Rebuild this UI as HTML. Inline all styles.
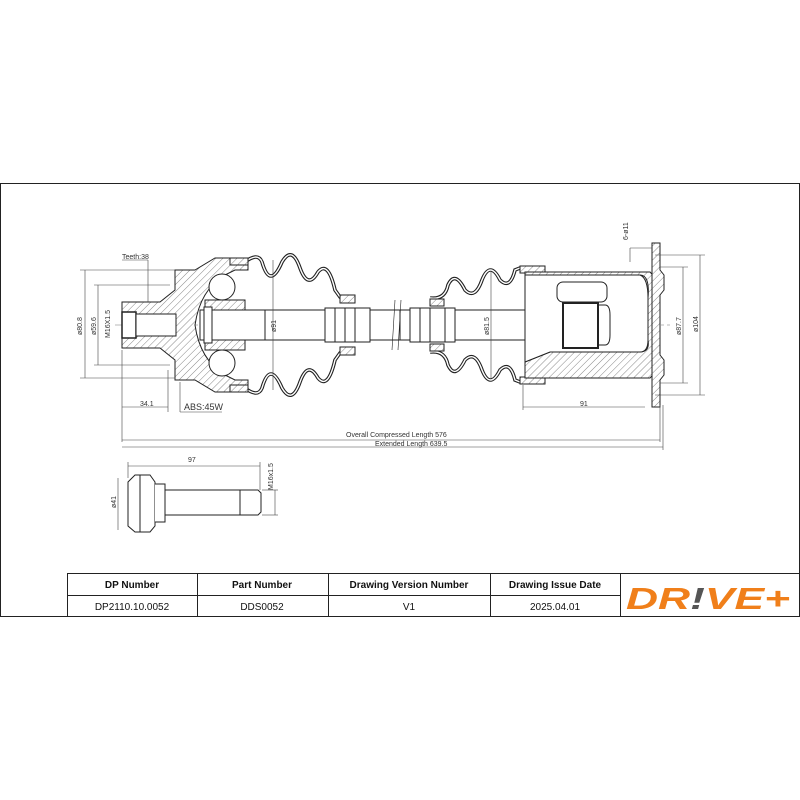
<!DOCTYPE html>
<html><head><meta charset="utf-8"><style>
body{margin:0;background:#fff;width:800px;height:800px;overflow:hidden;font-family:"Liberation Sans",sans-serif}
svg{position:absolute;left:0;top:0}
</style></head><body>
<svg width="800" height="800" viewBox="0 0 800 800" xmlns="http://www.w3.org/2000/svg">
<defs>
<pattern id="h" width="5" height="5" patternUnits="userSpaceOnUse" patternTransform="rotate(45)">
<rect width="5" height="5" fill="#fff"/><line x1="0" y1="0" x2="0" y2="5" stroke="#555" stroke-width="0.7"/></pattern>
</defs>
<g fill="none" stroke="#222" stroke-width="1">
<rect x="0.5" y="183.5" width="799" height="433" />
<line x1="115" y1="325" x2="670" y2="325" stroke="#777" stroke-width="0.6" stroke-dasharray="14,3,3,3"/>
<path d="M122 302 H160 L175 290 V270 H195 L215 258 H248 V270 H235 L225 275 Q200 290 195 325 Q200 360 225 375 L235 380 H248 V392 H215 L195 380 H175 V360 L160 348 H122 Z" fill="url(#h)"/>
<rect x="122" y="312" width="14" height="26" fill="#fff" stroke-width="1.5"/>
<rect x="136" y="314" width="40" height="22" fill="#fff"/>
<circle cx="222" cy="287" r="13" fill="#fff"/>
<circle cx="222" cy="363" r="13" fill="#fff"/>
<path d="M205 300 H245 V350 H205 Z" fill="url(#h)"/>
<rect x="200" y="310" width="200" height="30" fill="#fff"/>
<rect x="204" y="307" width="8" height="36" fill="#fff"/>
<line x1="265" y1="310" x2="265" y2="340"/>
<rect x="325" y="308" width="45" height="34" fill="#fff"/>
<line x1="335" y1="308" x2="335" y2="342"/><line x1="345" y1="308" x2="345" y2="342"/><line x1="355" y1="308" x2="355" y2="342"/>
<g id="bootL">
<path d="M245 262 Q258 252 262 262 Q270 290 282 262 Q292 245 300 268 Q308 290 318 272 Q328 260 335 290 L340 297 H355" stroke-width="3.6"/>
<path d="M245 388 Q258 398 262 388 Q270 360 282 388 Q292 405 300 382 Q308 360 318 378 Q328 390 335 360 L340 353 H355" stroke-width="3.6"/>
<path d="M245 262 Q258 252 262 262 Q270 290 282 262 Q292 245 300 268 Q308 290 318 272 Q328 260 335 290 L340 297 H355" stroke="#fff" stroke-width="1.4"/>
<path d="M245 388 Q258 398 262 388 Q270 360 282 388 Q292 405 300 382 Q308 360 318 378 Q328 390 335 360 L340 353 H355" stroke="#fff" stroke-width="1.4"/>
</g>
<rect x="340" y="295" width="15" height="8" fill="url(#h)"/>
<rect x="340" y="347" width="15" height="8" fill="url(#h)"/>
<rect x="230" y="258" width="18" height="7" fill="url(#h)"/>
<rect x="230" y="385" width="18" height="7" fill="url(#h)"/>
<rect x="400" y="310" width="195" height="30" fill="#fff"/>
<rect x="410" y="308" width="45" height="34" fill="#fff"/>
<line x1="420" y1="308" x2="420" y2="342"/><line x1="430" y1="308" x2="430" y2="342"/><line x1="445" y1="308" x2="445" y2="342"/>
<line x1="395" y1="300" x2="392" y2="350" stroke-width="0.6"/><line x1="401" y1="300" x2="398" y2="350" stroke-width="0.6"/>
<path d="M430 298 Q445 300 448 285 Q455 270 465 290 Q475 300 482 280 Q490 260 500 280 Q510 290 515 270 L520 268 H545" stroke-width="3.6"/>
<path d="M430 352 Q445 350 448 365 Q455 380 465 360 Q475 350 482 370 Q490 390 500 370 Q510 360 515 380 L520 382 H545" stroke-width="3.6"/>
<path d="M430 298 Q445 300 448 285 Q455 270 465 290 Q475 300 482 280 Q490 260 500 280 Q510 290 515 270 L520 268 H545" stroke="#fff" stroke-width="1.4"/>
<path d="M430 352 Q445 350 448 365 Q455 380 465 360 Q475 350 482 370 Q490 390 500 370 Q510 360 515 380 L520 382 H545" stroke="#fff" stroke-width="1.4"/>
<rect x="430" y="299" width="14" height="7" fill="url(#h)"/>
<rect x="430" y="344" width="14" height="7" fill="url(#h)"/>
<rect x="520" y="266" width="25" height="7" fill="url(#h)"/>
<rect x="520" y="377" width="25" height="7" fill="url(#h)"/>
<path d="M525 272 H650 L660 283 V367 L650 378 H525 V362 L550 352 H640 Q650 352 648 340 V298 Q650 275 640 275 H525 Z" fill="url(#h)"/>
<path d="M525 275 H640 Q648 278 648 298 V340 Q648 352 640 352 H550 L525 362 Z" fill="#fff"/>
<rect x="557" y="282" width="50" height="20" rx="6" fill="#fff"/>
<rect x="563" y="303" width="35" height="45" fill="#fff" stroke-width="2"/>
<path d="M598 305 H605 Q610 305 610 315 V335 Q610 345 605 345 H598" />
<path d="M652 243 H660 V270 L664 275 V290 L660 295 V355 L664 360 V375 L660 380 V407 H652 Z" fill="url(#h)"/>
</g>
<g stroke="#444" stroke-width="0.6" fill="none">
<line x1="85" y1="270" x2="85" y2="378"/><line x1="80" y1="270" x2="175" y2="270"/><line x1="80" y1="378" x2="175" y2="378"/>
<line x1="98" y1="285" x2="98" y2="365"/><line x1="94" y1="285" x2="170" y2="285"/><line x1="94" y1="365" x2="170" y2="365"/>
<line x1="122" y1="350" x2="122" y2="442"/><line x1="168" y1="370" x2="168" y2="412"/>
<line x1="122" y1="407" x2="168" y2="407"/>
<line x1="122" y1="440" x2="660" y2="440"/><line x1="122" y1="447" x2="663" y2="447"/>
<line x1="660" y1="405" x2="660" y2="442"/><line x1="663" y1="405" x2="663" y2="450"/>
<line x1="180" y1="382" x2="180" y2="412"/><line x1="180" y1="412" x2="222" y2="412"/>
<line x1="148" y1="260" x2="148" y2="302"/><line x1="122" y1="260" x2="148" y2="260"/>
<line x1="523" y1="385" x2="523" y2="410"/><line x1="523" y1="407" x2="645" y2="407"/>
<line x1="700" y1="255" x2="700" y2="395"/><line x1="655" y1="255" x2="705" y2="255"/><line x1="655" y1="395" x2="705" y2="395"/>
<line x1="683" y1="267" x2="683" y2="383"/><line x1="660" y1="267" x2="688" y2="267"/><line x1="660" y1="383" x2="688" y2="383"/>
<line x1="630" y1="248" x2="630" y2="262"/><line x1="630" y1="248" x2="652" y2="248"/>
<line x1="273" y1="260" x2="273" y2="390"/><line x1="491" y1="272" x2="491" y2="378"/>
<line x1="128" y1="466" x2="260" y2="466"/><line x1="128" y1="462" x2="128" y2="478"/><line x1="260" y1="462" x2="260" y2="490"/>
<line x1="118" y1="478" x2="118" y2="530"/><line x1="275" y1="490" x2="275" y2="515"/><line x1="262" y1="490" x2="278" y2="490"/><line x1="262" y1="515" x2="278" y2="515"/>
</g>
<g stroke="#222" stroke-width="1" fill="#fff">
<path d="M128 482 L135 475 H150 L155 482 V526 L150 532 H135 L128 526 Z"/>
<line x1="140" y1="475" x2="140" y2="532"/>
<path d="M155 484 H165 V522 H155"/>
<path d="M165 490 H258 L261 493 V512 L258 515 H165 Z"/>
<line x1="240" y1="490" x2="240" y2="515"/>
</g>
<g font-family="Liberation Sans,sans-serif" font-size="7" fill="#333">
<text x="122" y="259">Teeth:38</text>
<text x="140" y="406">34.1</text>
<text x="184" y="410" font-size="9">ABS:45W</text>
<text x="346" y="437">Overall  Compressed  Length 576</text>
<text x="375" y="446">Extended  Length 639.5</text>
<text x="580" y="406">91</text>
<text x="188" y="462">97</text>
<text transform="translate(82,335) rotate(-90)">ø80.8</text>
<text transform="translate(96,335) rotate(-90)">ø59.6</text>
<text transform="translate(110,338) rotate(-90)">M16X1.5</text>
<text transform="translate(276,332) rotate(-90)">ø91</text>
<text transform="translate(489,335) rotate(-90)">ø81.5</text>
<text transform="translate(681,335) rotate(-90)">ø87.7</text>
<text transform="translate(698,332) rotate(-90)">ø104</text>
<text transform="translate(628,240) rotate(-90)">6-ø11</text>
<text transform="translate(116,508) rotate(-90)">ø41</text>
<text transform="translate(273,490) rotate(-90)">M16x1.5</text>
</g>
<g stroke="#222" stroke-width="1" fill="none">
<line x1="67" y1="573.5" x2="800" y2="573.5"/>
<line x1="67" y1="595.5" x2="620" y2="595.5"/>
<line x1="67.5" y1="573" x2="67.5" y2="617"/>
<line x1="197.5" y1="573" x2="197.5" y2="617"/>
<line x1="328.5" y1="573" x2="328.5" y2="617"/>
<line x1="490.5" y1="573" x2="490.5" y2="617"/>
<line x1="620.5" y1="573" x2="620.5" y2="617"/>
</g>
<g font-family="Liberation Sans,sans-serif" font-size="10" fill="#111" text-anchor="middle">
<text x="132" y="588" font-weight="bold">DP Number</text>
<text x="262" y="588" font-weight="bold">Part Number</text>
<text x="409" y="588" font-weight="bold">Drawing Version Number</text>
<text x="555" y="588" font-weight="bold">Drawing Issue Date</text>
<text x="132" y="610">DP2110.10.0052</text>
<text x="262" y="610">DDS0052</text>
<text x="409" y="610">V1</text>
<text x="555" y="610">2025.04.01</text>
</g>
<text x="626" y="609" font-family="Liberation Sans,sans-serif" font-size="31" font-weight="bold" font-style="italic" fill="#f07f1a" textLength="164" lengthAdjust="spacingAndGlyphs">DR<tspan fill="#555">!</tspan>VE+</text>
</svg>
</body></html>
